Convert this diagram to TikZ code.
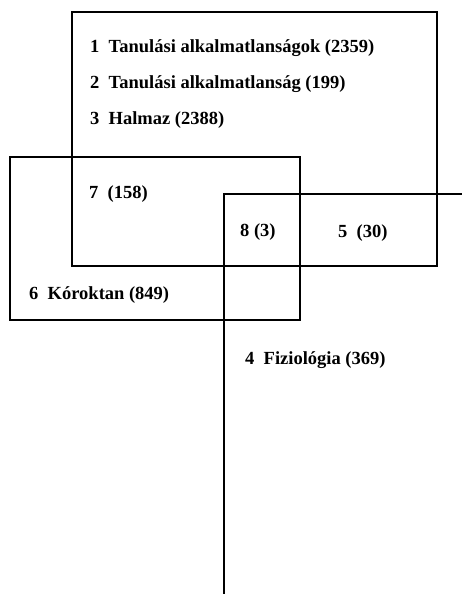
\documentclass[tikz,border=0pt]{standalone}
\usepackage{fontspec}
\setmainfont{Liberation Serif}
\usetikzlibrary{positioning}

\begin{document}
\begin{tikzpicture}[x=1pt,y=-1pt,
        setbox/.style={line width=2.2pt},
        lbl/.style={anchor=west, inner sep=0pt, font=\bfseries\fontsize{18.5}{22}\selectfont}
    ]
        \useasboundingbox (0,0) rectangle (462,594);

        % Set boxes
        \draw[setbox] (72,12) rectangle (437,266);
        \draw[setbox] (10,157) rectangle (300,320);
        % Fiziologia box, open to the right and below
        \draw[setbox] (462,194) -- (224,194) -- (224,594);

        % Labels of the big set
        \foreach \y/\txt [count=\i] in {
            48/{Tanulási alkalmatlanságok (2359)},
            84/{Tanulási alkalmatlanság (199)},
            120/{Halmaz (2388)}
        } {
            \node[lbl] (halmaz\i) at (90,\y) {\i\enspace\txt};
        }

        % Intersections and the other sets
        \node[lbl] (metszet7) at (89,194) {7\enspace(158)};
        \node[lbl] (metszet8) at (240,232) {8 (3)};
        \node[lbl] (metszet5) at (338,233) {5\enspace(30)};
        \node[lbl] (koroktan) at (29,295) {6\enspace Kóroktan (849)};
        \node[lbl] (fiziologia) at (245,360) {4\enspace Fiziológia (369)};
    \end{tikzpicture}
\end{document}
